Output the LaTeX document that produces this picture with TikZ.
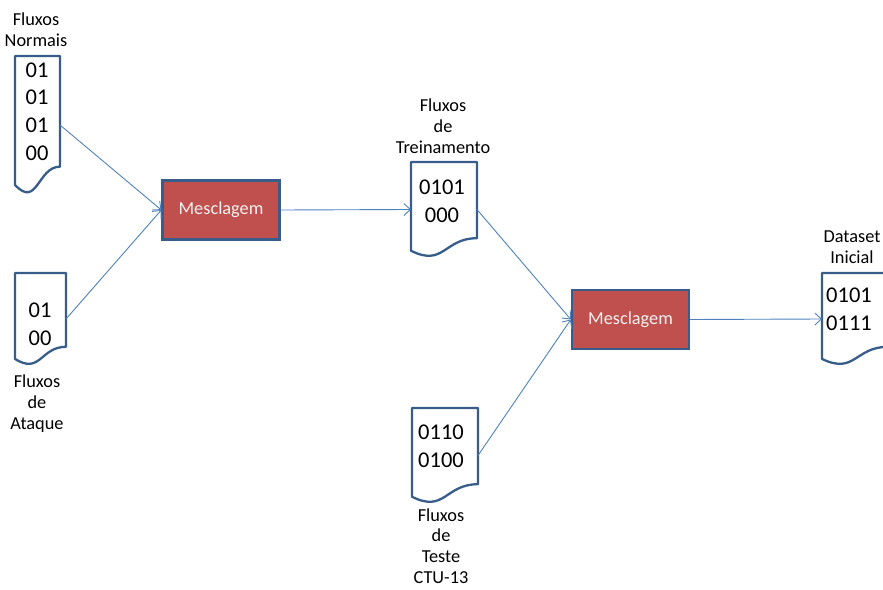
\documentclass[tikz,border=0pt]{standalone}
\usepackage{fontspec}
\setmainfont{Carlito}
\usetikzlibrary{calc,arrows.meta}

\definecolor{docblue}{HTML}{385D8A}
\definecolor{linkblue}{HTML}{4F81BD}
\definecolor{mixred}{HTML}{C0504D}

\tikzset{
  docarea/.style={rectangle, inner sep=0pt, outer sep=0pt, draw=none},
  docline/.style={draw=docblue, line width=2.3pt, line join=round, fill=white},
  bits/.style={align=center, inner sep=0pt, font=\fontsize{22.5}{27.7}\selectfont},
  caption/.style={align=center, inner sep=0pt, font=\fontsize{18.3}{21}\selectfont},
  mixbox/.style={rectangle, fill=mixred, draw=docblue, line width=2.3pt,
    minimum width=117pt, minimum height=59pt, inner sep=0pt,
    text=white!95!black, font=\fontsize{18.3}{21}\selectfont},
  link/.style={draw=linkblue, line width=0.9pt,
    -{Straight Barb[length=6.5pt,width=12pt,line width=0.9pt]}},
}

% outline of a flowchart "document" shape drawn over a named area node
\newcommand\docoutline[1]{%
  \path[docline] (#1.north west) -- (#1.north east)
    -- ($(#1.north east)!0.802!(#1.south east)$)
    .. controls ($(#1.north)!0.802!(#1.south)$) and ($(#1.north)!1.1075!(#1.south)$)
    .. ($(#1.north west)!0.934!(#1.south west)$) -- cycle;}

\begin{document}
\begin{tikzpicture}[x=1pt,y=-1pt]
  \useasboundingbox (0,0) rectangle (883,589);
  \clip (0,0) rectangle (883,589);

  % document areas
  \node[docarea, minimum width=45pt, minimum height=138pt] (normais) at (37.5,125) {};
  \node[docarea, minimum width=51pt, minimum height=92pt] (ataque) at (40.5,319) {};
  \node[docarea, minimum width=66pt, minimum height=95pt] (treino) at (444,209.5) {};
  \node[docarea, minimum width=66pt, minimum height=95pt] (teste) at (445,455.5) {};
  \node[docarea, minimum width=66pt, minimum height=92pt] (dataset) at (855,319) {};

  \docoutline{normais}
  \docoutline{ataque}
  \docoutline{treino}
  \docoutline{teste}
  \docoutline{dataset}

  % contents of the documents
  \node[bits] (normaisbits) at (37,111.5) {01\\01\\01\\00};
  \node[bits] (ataquebits) at (40,324.5) {01\\00};
  \node[bits] (treinobits) at (442,201) {0101\\000};
  \node[bits] (testebits) at (441,446.5) {0110\\0100};
  \node[bits] (datasetbits) at (849,309.5) {0101\\0111};

  % captions
  \node[caption] (normaislbl) at (36,30) {Fluxos\\Normais};
  \node[caption] (ataquelbl) at (37,404) {Fluxos\\de\\Ataque};
  \node[caption] (treinolbl) at (443,126) {Fluxos\\de\\Treinamento};
  \node[caption, font=\fontsize{18.3}{20.6}\selectfont] (testelbl) at (441,546) {Fluxos\\de\\Teste\\CTU-13};
  \node[caption] (datasetlbl) at (852,247.5) {Dataset\\Inicial};

  % merge steps
  \node[mixbox] (mix1) at (221,210) {Mesclagem};
  \node[mixbox] (mix2) at (630.5,319.5) {Mesclagem};

  % connectors
  \draw[link] (normais.east) -- (mix1.west);
  \draw[link] (ataque.east) -- (mix1.west);
  \draw[link] (mix1.east) -- (treino.west);
  \draw[link] (treino.east) -- (mix2.west);
  \draw[link] (teste.east) -- (mix2.west);
  \draw[link] (mix2.east) -- (dataset.west);
\end{tikzpicture}
\end{document}
